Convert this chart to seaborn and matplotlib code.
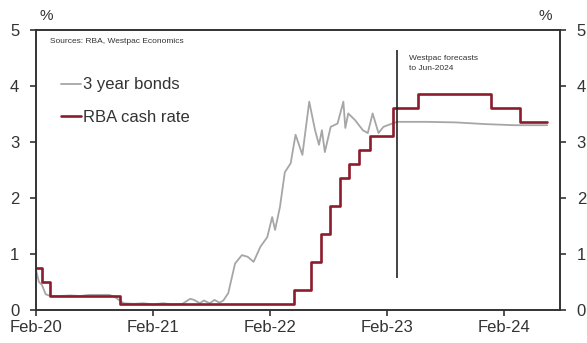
import numpy as np
import pandas as pd
import matplotlib
matplotlib.use("Agg")
import matplotlib.pyplot as plt
import seaborn as sns

# x = months since Feb-2020
bond_month = [0, 0.3, 0.6, 1.0, 1.5, 2.5, 3.5, 4.5, 5.5, 6.5, 7.5, 8.0, 8.5, 9.0, 10, 11, 12, 13, 14, 15,
              15.8, 16.2, 16.8, 17.2, 17.8, 18.3, 18.8, 19.2, 19.7, 20.4, 21.1, 21.7, 22.3, 23.0, 23.7,
              24.2, 24.5, 25.0, 25.5, 26.1, 26.6, 27.3, 28.0, 28.6, 29.0, 29.3, 29.6, 30.2, 30.9,
              31.5, 31.7, 32.0, 32.7, 33.5, 34.0, 34.5, 35.1, 35.6, 36.5, 37.0,
              40, 43, 46, 49, 52.4]
bond_yield = [0.72, 0.5, 0.45, 0.28, 0.25, 0.25, 0.26, 0.25, 0.27, 0.27, 0.27, 0.24, 0.18, 0.12, 0.11, 0.12, 0.1, 0.12, 0.1, 0.11,
              0.2, 0.18, 0.12, 0.17, 0.12, 0.18, 0.13, 0.17, 0.3, 0.83, 0.98, 0.95, 0.86, 1.13, 1.3,
              1.66, 1.43, 1.84, 2.46, 2.62, 3.13, 2.77, 3.72, 3.21, 2.95, 3.21, 2.82, 3.27, 3.33,
              3.72, 3.25, 3.51, 3.39, 3.21, 3.16, 3.51, 3.16, 3.27, 3.33, 3.36,
              3.36, 3.35, 3.32, 3.3, 3.3]

cash_month = [0, 0.6, 1.4, 8.6, 26.4, 28.2, 29.2, 30.1, 31.2, 32.1, 33.1, 34.2, 36.6, 39.1, 46.6, 49.6, 52.4]
cash_rate = [0.75, 0.5, 0.25, 0.1, 0.35, 0.85, 1.35, 1.85, 2.35, 2.6, 2.85, 3.1, 3.6, 3.85, 3.6, 3.35, 3.35]

tick_pos = [0, 12, 24, 36, 48]
tick_labels = ["Feb-20", "Feb-21", "Feb-22", "Feb-23", "Feb-24"]
forecast_month = 37.0

sns.set_theme(style="white")
plt.rcParams['font.family'] = ['Liberation Sans', 'DejaVu Sans']

bonds = pd.DataFrame({"month": bond_month, "value": bond_yield})
cash = pd.DataFrame({"month": cash_month, "value": cash_rate})

fig = plt.figure(figsize=(5.87, 3.43), dpi=100)
ax = fig.add_axes([36/587, 1 - 310/343, (560 - 36)/587, (310 - 30)/343])

sns.lineplot(data=bonds, x="month", y="value", ax=ax, color="#a6a6a6", lw=1.3, label="3 year bonds")
sns.lineplot(data=cash, x="month", y="value", ax=ax, color="#8c1c2c", lw=1.9,
             drawstyle="steps-post", label="RBA cash rate")

ax.vlines(forecast_month, 0.57, 4.64, color="#222222", lw=1.2)
ax.text(forecast_month + 1.2, 4.55, "Westpac forecasts\nto Jun-2024", fontsize=6, color="#333333",
        va="top", ha="left", linespacing=1.6)
ax.text(1.4, 4.85, "Sources: RBA, Westpac Economics", fontsize=6, color="#333333", va="top", ha="left")

ax.set_xlim(0, 53.7)
ax.set_ylim(0, 5)
ax.set_xticks(tick_pos)
ax.set_xticklabels(tick_labels)
ax.set_yticks([0, 1, 2, 3, 4, 5])
ax.set_xlabel("")
ax.set_ylabel("")
for s in ax.spines.values():
    s.set_visible(True)
    s.set_color("#333333")
    s.set_linewidth(1.4)
ax.tick_params(axis="both", which="both", direction="out", length=4, width=1.2, color="#333333",
               labelsize=12, labelcolor="#333333", bottom=True, left=True, right=True, labelright=True)
ax.tick_params(axis="y", pad=8)
ax.tick_params(axis="x", pad=3)

fig.text(40/587, 1 - 16/343, "%", fontsize=11, color="#333333", ha="left", va="center")
fig.text(552/587, 1 - 16/343, "%", fontsize=11, color="#333333", ha="right", va="center")

leg = ax.legend(loc="upper left", bbox_to_anchor=(0.02, 0.884), frameon=False, fontsize=12,
                handlelength=1.2, handletextpad=0.1, labelspacing=1.03)
for t in leg.get_texts():
    t.set_color("#333333")

fig.savefig("out.png", dpi=100)
